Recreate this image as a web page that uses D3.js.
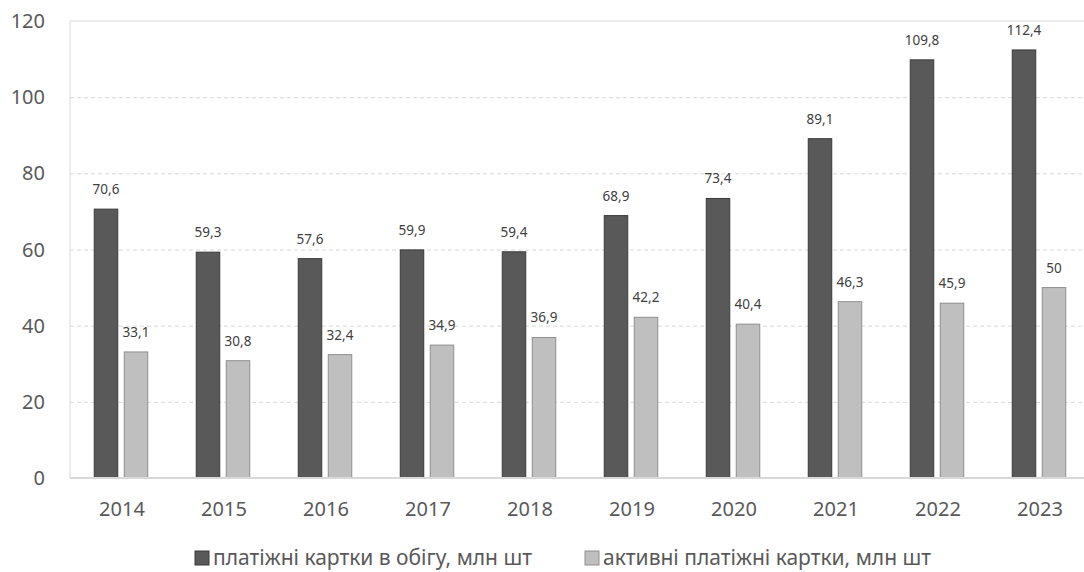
<!DOCTYPE html>
<html>
<head>
<meta charset="utf-8">
<script src="https://cdn.jsdelivr.net/npm/d3@7"></script>
<style>
  body { margin: 0; background: #fff; }
  svg { font-family: "Noto Sans", "Open Sans", sans-serif; }
  .grid line { stroke: #d9d9d9; stroke-dasharray: 4,3; }
  .grid path { display: none; }
</style>
</head>
<body>
<div id="chart"></div>
<script>
var years = ["2014", "2015", "2016", "2017", "2018", "2019", "2020", "2021", "2022", "2023"];
var cardsTotal = [70.6, 59.3, 57.6, 59.9, 59.4, 68.9, 73.4, 89.1, 109.8, 112.4];
var cardsActive = [33.1, 30.8, 32.4, 34.9, 36.9, 42.2, 40.4, 46.3, 45.9, 50];
var seriesNames = ["платіжні картки в обігу, млн шт", "активні платіжні картки, млн шт"];
var yTicks = [0, 20, 40, 60, 80, 100, 120];

var width = 1084, height = 572;
var margin = { top: 21, right: -6, bottom: 94, left: 70 };

var svg = d3.select("#chart").append("svg")
  .attr("width", width)
  .attr("height", height);

var x = d3.scaleBand()
  .domain(years)
  .range([margin.left, width - margin.right])
  .paddingInner(0)
  .paddingOuter(0);

var y = d3.scaleLinear()
  .domain([0, 120])
  .range([height - margin.bottom, margin.top]);

var barW = 23.5, gap = 6.5;

// gridlines
svg.append("g")
  .attr("class", "grid")
  .attr("transform", "translate(" + margin.left + ",0)")
  .call(d3.axisLeft(y).tickValues([20, 40, 60, 80, 100]).tickSize(-(width - margin.left)).tickFormat(""));

// top solid line
svg.append("line")
  .attr("x1", margin.left).attr("x2", width)
  .attr("y1", y(120)).attr("y2", y(120))
  .attr("stroke", "#d9d9d9");

// left axis line
svg.append("line")
  .attr("x1", margin.left).attr("x2", margin.left)
  .attr("y1", y(120)).attr("y2", y(0))
  .attr("stroke", "#d9d9d9");

// y tick labels
svg.append("g").selectAll("text")
  .data(yTicks)
  .enter().append("text")
  .attr("x", 45)
  .attr("y", function (d) { return y(d); })
  .attr("dy", "0.35em")
  .attr("text-anchor", "end")
  .attr("font-size", 20)
  .attr("fill", "#595959")
  .text(function (d) { return d; });

var data = years.map(function (yr, i) {
  return { year: yr, total: cardsTotal[i], active: cardsActive[i] };
});

function fmt(v) { return String(v).replace(".", ","); }

var groups = svg.append("g").selectAll("g")
  .data(data)
  .enter().append("g")
  .attr("transform", function (d) { return "translate(" + (x(d.year) + x.bandwidth() / 2) + ",0)"; });

groups.append("rect")
  .attr("x", -barW - gap / 2)
  .attr("y", function (d) { return y(d.total); })
  .attr("width", barW)
  .attr("height", function (d) { return y(0) - y(d.total); })
  .attr("fill", "#595959")
  .attr("stroke", "#3a3a3a")
  .attr("stroke-width", 1);

groups.append("rect")
  .attr("x", gap / 2)
  .attr("y", function (d) { return y(d.active); })
  .attr("width", barW)
  .attr("height", function (d) { return y(0) - y(d.active); })
  .attr("fill", "#bfbfbf")
  .attr("stroke", "#8f8f8f")
  .attr("stroke-width", 1);

groups.append("text")
  .attr("x", -barW / 2 - gap / 2)
  .attr("y", function (d) { return y(d.total) - 15; })
  .attr("text-anchor", "middle")
  .attr("font-size", 13.5)
  .attr("fill", "#404040")
  .text(function (d) { return fmt(d.total); });

groups.append("text")
  .attr("x", barW / 2 + gap / 2)
  .attr("y", function (d) { return y(d.active) - 15; })
  .attr("text-anchor", "middle")
  .attr("font-size", 13.5)
  .attr("fill", "#404040")
  .text(function (d) { return fmt(d.active); });

// x axis line
svg.append("line")
  .attr("x1", margin.left).attr("x2", width)
  .attr("y1", y(0)).attr("y2", y(0))
  .attr("stroke", "#d9d9d9")
  .attr("stroke-width", 2);

// x labels
svg.append("g").selectAll("text")
  .data(years)
  .enter().append("text")
  .attr("x", function (d) { return x(d) + x.bandwidth() / 2 + 1; })
  .attr("y", 516)
  .attr("text-anchor", "middle")
  .attr("font-size", 20)
  .attr("fill", "#595959")
  .text(function (d) { return d; });

// legend
var legendItems = [
  { name: seriesNames[0], fill: "#595959", stroke: "#3a3a3a", x: 195 },
  { name: seriesNames[1], fill: "#bfbfbf", stroke: "#8f8f8f", x: 585 }
];
var lg = svg.append("g").selectAll("g")
  .data(legendItems)
  .enter().append("g")
  .attr("transform", function (d) { return "translate(" + d.x + ",558)"; });
lg.append("rect")
  .attr("x", 0).attr("y", -7)
  .attr("width", 14).attr("height", 14)
  .attr("fill", function (d) { return d.fill; })
  .attr("stroke", function (d) { return d.stroke; });
lg.append("text")
  .attr("x", 18)
  .attr("y", 0)
  .attr("dy", "0.35em")
  .attr("font-size", 21)
  .attr("fill", "#595959")
  .text(function (d) { return d.name; });
</script>
</body>
</html>
